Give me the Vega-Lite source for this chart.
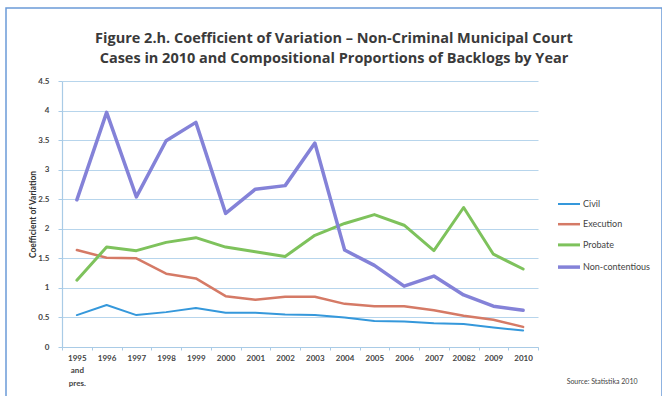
{
  "$schema": "https://vega.github.io/schema/vega-lite/v6.json",
  "width": 656,
  "height": 400,
  "autosize": "none",
  "padding": {"left": 6, "top": 8, "right": 0, "bottom": 0},
  "background": "white",
  "config": {
    "font": "Lato",
    "view": {"stroke": "#6b9bd8", "strokeWidth": 1.5}
  },
  "title": {
    "text": [
      "Figure 2.h. Coefficient of Variation – Non-Criminal Municipal Court",
      "Cases in 2010 and Compositional Proportions of Backlogs by Year"
    ],
    "anchor": "middle",
    "frame": "group",
    "font": "Open Sans",
    "fontSize": 14.5,
    "fontWeight": "bold",
    "color": "#3a3a3a",
    "lineHeight": 20,
    "baseline": "top",
    "offset": -27,
    "dy": 31
  },
  "data": {
    "values": [
      {"year": "1995 and pres.", "series": "Civil", "cv": 0.54},
      {"year": "1996", "series": "Civil", "cv": 0.71},
      {"year": "1997", "series": "Civil", "cv": 0.54},
      {"year": "1998", "series": "Civil", "cv": 0.59},
      {"year": "1999", "series": "Civil", "cv": 0.66},
      {"year": "2000", "series": "Civil", "cv": 0.58},
      {"year": "2001", "series": "Civil", "cv": 0.58},
      {"year": "2002", "series": "Civil", "cv": 0.55},
      {"year": "2003", "series": "Civil", "cv": 0.54},
      {"year": "2004", "series": "Civil", "cv": 0.50},
      {"year": "2005", "series": "Civil", "cv": 0.44},
      {"year": "2006", "series": "Civil", "cv": 0.43},
      {"year": "2007", "series": "Civil", "cv": 0.40},
      {"year": "20082", "series": "Civil", "cv": 0.39},
      {"year": "2009", "series": "Civil", "cv": 0.33},
      {"year": "2010", "series": "Civil", "cv": 0.28},
      {"year": "1995 and pres.", "series": "Execution", "cv": 1.64},
      {"year": "1996", "series": "Execution", "cv": 1.51},
      {"year": "1997", "series": "Execution", "cv": 1.50},
      {"year": "1998", "series": "Execution", "cv": 1.24},
      {"year": "1999", "series": "Execution", "cv": 1.16},
      {"year": "2000", "series": "Execution", "cv": 0.86},
      {"year": "2001", "series": "Execution", "cv": 0.80},
      {"year": "2002", "series": "Execution", "cv": 0.85},
      {"year": "2003", "series": "Execution", "cv": 0.85},
      {"year": "2004", "series": "Execution", "cv": 0.73},
      {"year": "2005", "series": "Execution", "cv": 0.69},
      {"year": "2006", "series": "Execution", "cv": 0.69},
      {"year": "2007", "series": "Execution", "cv": 0.62},
      {"year": "20082", "series": "Execution", "cv": 0.53},
      {"year": "2009", "series": "Execution", "cv": 0.46},
      {"year": "2010", "series": "Execution", "cv": 0.34},
      {"year": "1995 and pres.", "series": "Probate", "cv": 1.13},
      {"year": "1996", "series": "Probate", "cv": 1.69},
      {"year": "1997", "series": "Probate", "cv": 1.63},
      {"year": "1998", "series": "Probate", "cv": 1.77},
      {"year": "1999", "series": "Probate", "cv": 1.85},
      {"year": "2000", "series": "Probate", "cv": 1.69},
      {"year": "2001", "series": "Probate", "cv": 1.61},
      {"year": "2002", "series": "Probate", "cv": 1.53},
      {"year": "2003", "series": "Probate", "cv": 1.89},
      {"year": "2004", "series": "Probate", "cv": 2.09},
      {"year": "2005", "series": "Probate", "cv": 2.24},
      {"year": "2006", "series": "Probate", "cv": 2.06},
      {"year": "2007", "series": "Probate", "cv": 1.63},
      {"year": "20082", "series": "Probate", "cv": 2.36},
      {"year": "2009", "series": "Probate", "cv": 1.57},
      {"year": "2010", "series": "Probate", "cv": 1.32},
      {"year": "1995 and pres.", "series": "Non-contentious", "cv": 2.49},
      {"year": "1996", "series": "Non-contentious", "cv": 3.97},
      {"year": "1997", "series": "Non-contentious", "cv": 2.54},
      {"year": "1998", "series": "Non-contentious", "cv": 3.49},
      {"year": "1999", "series": "Non-contentious", "cv": 3.80},
      {"year": "2000", "series": "Non-contentious", "cv": 2.26},
      {"year": "2001", "series": "Non-contentious", "cv": 2.67},
      {"year": "2002", "series": "Non-contentious", "cv": 2.73},
      {"year": "2003", "series": "Non-contentious", "cv": 3.45},
      {"year": "2004", "series": "Non-contentious", "cv": 1.64},
      {"year": "2005", "series": "Non-contentious", "cv": 1.38},
      {"year": "2006", "series": "Non-contentious", "cv": 1.03},
      {"year": "2007", "series": "Non-contentious", "cv": 1.20},
      {"year": "20082", "series": "Non-contentious", "cv": 0.88},
      {"year": "2009", "series": "Non-contentious", "cv": 0.69},
      {"year": "2010", "series": "Non-contentious", "cv": 0.62}
    ]
  },
  "mark": {"type": "line", "strokeJoin": "round", "strokeCap": "round"},
  "encoding": {
    "x": {
      "field": "year",
      "type": "ordinal",
      "sort": null,
      "bandPosition": 0.5,
      "scale": {"type": "band", "range": [56, 532], "paddingInner": 0, "paddingOuter": 0},
      "axis": {
        "offset": -61,
        "labelAngle": 0,
        "labelExpr": "split(datum.label, ' ')",
        "labelFont": "Lato",
        "labelFontSize": 8,
        "labelFontWeight": "bold",
        "labelColor": "#444444",
        "labelLineHeight": 12.5,
        "labelPadding": 4,
        "tickBand": "extent",
        "tickSize": 3,
        "tickColor": "#a9cbe6",
        "domainColor": "#a9cbe6",
        "domainWidth": 1.2,
        "grid": false,
        "title": "Source:  Statistika 2010",
        "titleFont": "Lato",
        "titleFontSize": 7,
        "titleFontWeight": "normal",
        "titleColor": "#444444",
        "titleAnchor": "end",
        "titleAlign": "right",
        "titleX": 631,
        "titleY": 34,
        "titleBaseline": "middle"
      }
    },
    "y": {
      "field": "cv",
      "type": "quantitative",
      "scale": {"domain": [0, 4.5], "range": [339, 73], "nice": false},
      "axis": {
        "offset": -56,
        "values": [0, 0.5, 1, 1.5, 2, 2.5, 3, 3.5, 4, 4.5],
        "format": "~g",
        "labelFont": "Lato",
        "labelFontSize": 8,
        "labelFontWeight": "bold",
        "labelColor": "#444444",
        "labelPadding": 9,
        "tickSize": 4,
        "tickColor": "#a9cbe6",
        "domainColor": "#a9cbe6",
        "domainWidth": 1.2,
        "grid": true,
        "gridColor": "#b7d5ec",
        "gridWidth": 1.2,
        "title": "Coefficient of Variation",
        "titleFont": "Lato",
        "titleFontSize": 8.5,
        "titleFontWeight": "bold",
        "titleColor": "#333333",
        "titlePadding": 0
      }
    },
    "color": {
      "field": "series",
      "type": "nominal",
      "scale": {
        "domain": ["Civil", "Execution", "Probate", "Non-contentious"],
        "range": ["#3598db", "#d57a66", "#7ec25c", "#8482d8"]
      },
      "legend": {
        "title": null,
        "orient": "none",
        "legendX": 550,
        "legendY": 184,
        "symbolType": "stroke",
        "symbolSize": 484,
        "symbolStrokeWidth": 2.5,
        "labelFont": "Lato",
        "labelFontSize": 9,
        "labelColor": "#444444",
        "labelOffset": 1,
        "rowPadding": 2.7
      }
    },
    "strokeWidth": {
      "field": "series",
      "type": "nominal",
      "scale": {
        "domain": ["Civil", "Execution", "Probate", "Non-contentious"],
        "range": [2, 3.5, 2, 2.5]
      },
      "legend": null
    }
  }
}
